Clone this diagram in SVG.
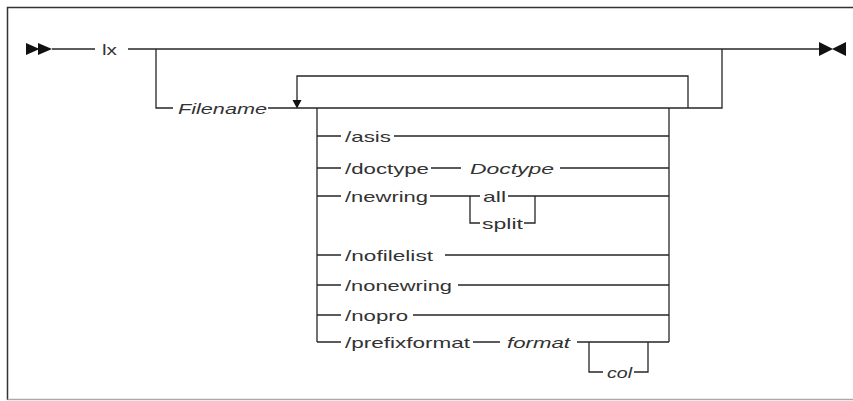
<svg xmlns="http://www.w3.org/2000/svg" width="853" height="401" viewBox="0 0 853 401">
  <style>
    .ln { fill: none; stroke: #262626; stroke-width: 1.3; }
    .t { font-family: "Liberation Sans", Arial, sans-serif; font-size: 14.5px; fill: #333; }
    .i { font-style: italic; }
    .mk { fill: #111; }
  </style>
  <rect width="853" height="401" fill="#fff"/>

  <!-- frame -->
  <g id="frame">
    <path d="M7.5,400 V7.5 H853" fill="none" stroke="#333" stroke-width="1.5"/>
    <path d="M7.5,399.5 H853" fill="none" stroke="#aaa" stroke-width="1.5"/>
  </g>

  <!-- start and end markers -->
  <g id="start">
    <path class="mk" d="M26,43 L39.5,49 L26,55 Z"/>
    <path class="mk" d="M38,43 L52,49 L38,55 Z"/>
  </g>
  <g id="end">
    <path class="mk" d="M819,42 L833,49 L819,56 Z"/>
    <path class="mk" d="M846,42 L832,49 L846,56 Z"/>
  </g>

  <!-- connectors -->
  <g id="connectors" class="ln">
    <!-- main line -->
    <path d="M52,49 H95"/>
    <path d="M128,49 H819"/>
    <!-- optional filename branch -->
    <path d="M156,49 V108 H173"/>
    <path d="M268,108 H722 V49"/>
    <!-- repeat loop -->
    <path d="M688,108 V76 H297 V101"/>
    <path class="mk" stroke="none" d="M292.5,100 H301.5 L297,108.5 Z"/>
    <!-- option spines -->
    <path d="M317,108 V342"/>
    <path d="M669,108 V342"/>
    <!-- option rows -->
    <path d="M317,136 H341 M394,136 H669"/>
    <path d="M317,168 H341 M431,168 H461 M560,168 H669"/>
    <path d="M317,196 H341 M430,196 H480 M508,196 H669"/>
    <path d="M470,196 V223 H480 M524,223 H535 V196"/>
    <path d="M317,255 H341 M445,255 H669"/>
    <path d="M317,285 H341 M458,285 H669"/>
    <path d="M317,315 H341 M413,315 H669"/>
    <path d="M317,342 H341 M473,342 H500 M577,342 H669"/>
    <path d="M589,342 V372 H603 M634,372 H648 V342"/>
  </g>

  <!-- keywords and variables -->
  <g id="lx"><text class="t" x="102" y="55" textLength="15" lengthAdjust="spacingAndGlyphs">lx</text></g>
  <g id="filename"><text class="t i" x="178" y="114" textLength="89" lengthAdjust="spacingAndGlyphs">Filename</text></g>
  <g id="asis"><text class="t" x="345" y="142" textLength="46" lengthAdjust="spacingAndGlyphs">/asis</text></g>
  <g id="doctype"><text class="t" x="345" y="174" textLength="84" lengthAdjust="spacingAndGlyphs">/doctype</text></g>
  <g id="doctype-value"><text class="t i" x="470" y="174" textLength="84" lengthAdjust="spacingAndGlyphs">Doctype</text></g>
  <g id="newring"><text class="t" x="345" y="202" textLength="83" lengthAdjust="spacingAndGlyphs">/newring</text></g>
  <g id="all"><text class="t" x="483" y="202" textLength="23" lengthAdjust="spacingAndGlyphs">all</text></g>
  <g id="split"><text class="t" x="482" y="229" textLength="41" lengthAdjust="spacingAndGlyphs">split</text></g>
  <g id="nofilelist"><text class="t" x="345" y="261" textLength="88" lengthAdjust="spacingAndGlyphs">/nofilelist</text></g>
  <g id="nonewring"><text class="t" x="345" y="291" textLength="107" lengthAdjust="spacingAndGlyphs">/nonewring</text></g>
  <g id="nopro"><text class="t" x="345" y="321" textLength="63" lengthAdjust="spacingAndGlyphs">/nopro</text></g>
  <g id="prefixformat"><text class="t" x="345" y="348" textLength="125" lengthAdjust="spacingAndGlyphs">/prefixformat</text></g>
  <g id="format"><text class="t i" x="507" y="348" textLength="63" lengthAdjust="spacingAndGlyphs">format</text></g>
  <g id="col"><text class="t i" x="607" y="378" textLength="25" lengthAdjust="spacingAndGlyphs">col</text></g>
</svg>
